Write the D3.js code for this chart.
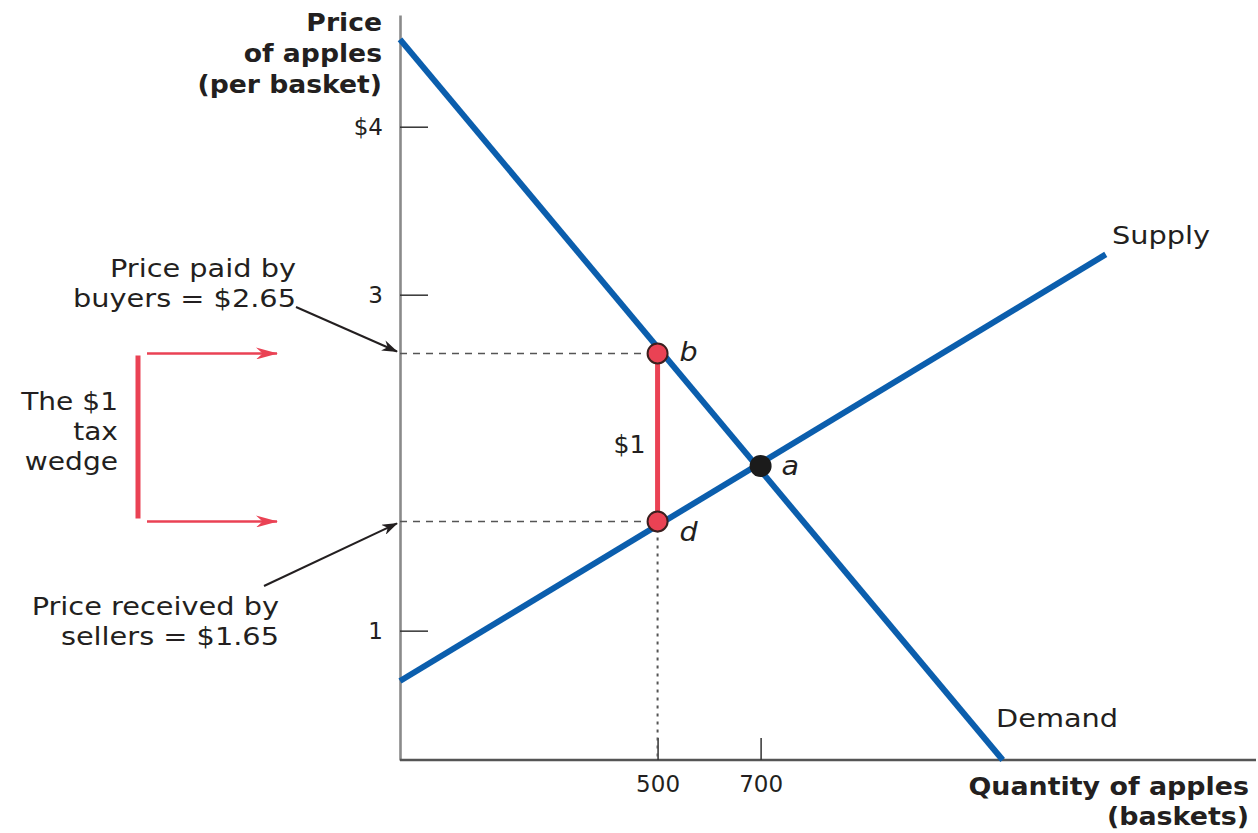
<!DOCTYPE html>
<html>
<head>
<meta charset="utf-8">
<script src="https://cdn.jsdelivr.net/npm/d3@7"></script>
<style>
  html, body { margin: 0; padding: 0; background: #fff; }
  svg { display: block; }
  text { font-family: "DejaVu Sans", "Noto Sans", sans-serif; fill: #231f20; }
</style>
</head>
<body>
<svg id="chart" width="1258" height="833"></svg>
<script>
// Apple market with a $1 tax: supply, demand and the wedge between prices.
const demandQty = [0, 1170];
const demandPrice = [4.52, 0.23];
const supplyQty = [0, 1370];
const supplyPrice = [0.70, 3.24];

const equilibrium = { label: "a", qty: 700, price: 1.98 };
const buyerPoint = { label: "b", qty: 500, price: 2.65 };
const sellerPoint = { label: "d", qty: 500, price: 1.65 };

const priceTicks = [1, 3, 4];
const qtyTicks = [500, 700];

const svg = d3.select("#chart");

const x = d3.scaleLinear().domain([0, 1650]).range([400, 1250]);
const y = d3.scaleLinear().domain([0.23, 4.665]).range([760, 15]);

const blue = "#0b5ead";
const red = "#ea4254";
const ink = "#231f20";

// arrow heads
const defs = svg.append("defs");
function marker(id, color, w, h) {
  defs.append("marker")
    .attr("id", id)
    .attr("viewBox", `0 0 ${w} ${h}`)
    .attr("refX", w - 1).attr("refY", h / 2)
    .attr("markerWidth", w).attr("markerHeight", h)
    .attr("markerUnits", "userSpaceOnUse")
    .attr("orient", "auto")
    .append("path")
    .attr("d", `M0,0 L${w},${h / 2} L0,${h} L${w * 0.3},${h / 2} Z`)
    .attr("fill", color);
}
marker("headBlack", ink, 16, 11);
marker("headRed", red, 22, 12);

// text block, optionally widened horizontally
function label(lines, xPos, y0, dy, opts) {
  const g = svg.append("g")
    .attr("transform", `translate(${xPos},${y0}) scale(${opts.sx || 1},1)`);
  const t = g.append("text")
    .attr("text-anchor", opts.anchor || "end")
    .attr("font-size", opts.size)
    .attr("font-weight", opts.weight || 400)
    .attr("font-style", opts.italic ? "italic" : null)
    .attr("fill", opts.fill || ink);
  lines.forEach((s, i) => {
    t.append("tspan").attr("x", 0).attr("y", i * dy).text(s);
  });
  return t;
}

// axes
const yAxis = d3.axisLeft(y)
  .tickValues(priceTicks)
  .tickSizeInner(-28).tickSizeOuter(0).tickPadding(17)
  .tickFormat(d => d === 4 ? "$4" : String(d));
const gy = svg.append("g").attr("transform", `translate(${x(0)},0)`).call(yAxis);
gy.select(".domain").attr("stroke", "#8a8a8a").attr("stroke-width", 2.6);
gy.selectAll(".tick line").attr("stroke", "#333").attr("stroke-width", 1.5);
gy.selectAll(".tick text").attr("font-size", 23).attr("fill", "#4a4a4a")
  .style("font-family", "'DejaVu Sans', sans-serif");

const xAxis = d3.axisBottom(x)
  .tickValues(qtyTicks)
  .tickSizeInner(-22).tickSizeOuter(0).tickPadding(16)
  .tickFormat(d3.format("d"));
const gx = svg.append("g").attr("transform", `translate(0,${y.range()[0]})`).call(xAxis);
gx.select(".domain").attr("stroke", "#555").attr("stroke-width", 2.4)
  .attr("d", `M${x.range()[0]},0H1256`);
gx.selectAll(".tick line").attr("stroke", "#333").attr("stroke-width", 1.5);
gx.selectAll(".tick text").attr("font-size", 23).attr("fill", "#4a4a4a")
  .style("font-family", "'DejaVu Sans', sans-serif");

// guide lines to the price axis
[buyerPoint, sellerPoint].forEach(p => {
  svg.append("line")
    .attr("x1", x(0)).attr("x2", x(p.qty))
    .attr("y1", y(p.price)).attr("y2", y(p.price))
    .attr("stroke", "#555").attr("stroke-width", 1.5)
    .attr("stroke-dasharray", "7,6");
});
svg.append("line")
  .attr("x1", x(sellerPoint.qty)).attr("x2", x(sellerPoint.qty))
  .attr("y1", y(sellerPoint.price)).attr("y2", y.range()[0])
  .attr("stroke", "#555").attr("stroke-width", 2)
  .attr("stroke-dasharray", "3,5");

// supply and demand curves
const line = d3.line().x(d => x(d[0])).y(d => y(d[1]));
svg.append("path")
  .attr("d", line(d3.zip(demandQty, demandPrice)))
  .attr("stroke", blue).attr("stroke-width", 6).attr("fill", "none");
svg.append("path")
  .attr("d", line(d3.zip(supplyQty, supplyPrice)))
  .attr("stroke", blue).attr("stroke-width", 6).attr("fill", "none");

// the $1 tax between buyer and seller price
svg.append("line")
  .attr("x1", x(buyerPoint.qty)).attr("x2", x(sellerPoint.qty))
  .attr("y1", y(buyerPoint.price)).attr("y2", y(sellerPoint.price))
  .attr("stroke", red).attr("stroke-width", 5);
label(["$1"], x(buyerPoint.qty) - 12, y((buyerPoint.price + sellerPoint.price) / 2) + 16, 0,
  { size: 24, sx: 1.05 });

// points
[buyerPoint, sellerPoint].forEach(p => {
  svg.append("circle")
    .attr("cx", x(p.qty)).attr("cy", y(p.price)).attr("r", 10)
    .attr("fill", red).attr("stroke", "#3b1f1f").attr("stroke-width", 2);
});
svg.append("circle")
  .attr("cx", x(equilibrium.qty)).attr("cy", y(equilibrium.price)).attr("r", 11)
  .attr("fill", "#1b1b1b");

// point letters
const letter = (p, dx, dy) => label([p.label], x(p.qty) + dx, y(p.price) + dy, 0,
  { size: 26, italic: true, anchor: "start", sx: 1.1 });
letter(buyerPoint, 22, 8);
letter(sellerPoint, 22, 20);
letter(equilibrium, 21, 9);

// curve names
label(["Supply"], 1112, 244, 0, { size: 24, anchor: "start", sx: 1.2 });
label(["Demand"], 996, 727, 0, { size: 24, anchor: "start", sx: 1.2 });

// axis titles
label(["Price", "of apples", "(per basket)"], 382, 31, 31, { size: 24, weight: 700, sx: 1.11 });
label(["Quantity of apples", "(baskets)"], 1249, 795, 30, { size: 24, weight: 700, sx: 1.12 });

// annotations
label(["Price paid by", "buyers = $2.65"], 296, 277, 30, { size: 24, sx: 1.2 });
label(["Price received by", "sellers = $1.65"], 279, 615, 30, { size: 24, sx: 1.2 });
label(["The $1", "tax", "wedge"], 118, 410, 30, { size: 24, sx: 1.17 });

svg.append("line")
  .attr("x1", 296).attr("y1", 307)
  .attr("x2", x(0) - 3).attr("y2", y(buyerPoint.price) - 2)
  .attr("stroke", ink).attr("stroke-width", 2)
  .attr("marker-end", "url(#headBlack)");
svg.append("line")
  .attr("x1", 264).attr("y1", 586)
  .attr("x2", x(0) - 3).attr("y2", y(sellerPoint.price) + 2)
  .attr("stroke", ink).attr("stroke-width", 2)
  .attr("marker-end", "url(#headBlack)");

// bracket for the tax wedge
svg.append("line")
  .attr("x1", 138).attr("x2", 138)
  .attr("y1", y(buyerPoint.price) + 2).attr("y2", y(sellerPoint.price) - 3)
  .attr("stroke", red).attr("stroke-width", 5);
[buyerPoint, sellerPoint].forEach(p => {
  svg.append("line")
    .attr("x1", 147).attr("x2", 277)
    .attr("y1", y(p.price)).attr("y2", y(p.price))
    .attr("stroke", red).attr("stroke-width", 2.5)
    .attr("marker-end", "url(#headRed)");
});
</script>
</body>
</html>
